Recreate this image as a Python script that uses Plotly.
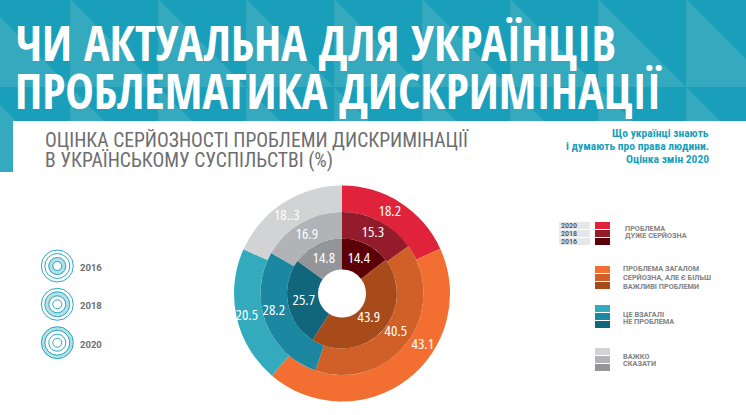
import plotly.graph_objects as go

W, H = 746, 415

categories = ["Проблема дуже серйозна", "Проблема загалом серйозна, але є більш важливі проблеми",
              "Це взагалі не проблема", "Важко сказати"]
values_2020 = [18.2, 43.1, 20.5, 18.3]
values_2018 = [15.3, 40.5, 28.2, 16.9]
values_2016 = [14.4, 43.9, 25.7, 14.8]
labels_2020 = ["18.2", "43.1", "20.5", "18..3"]
labels_2018 = ["15.3", "40.5", "28.2", "16.9"]
labels_2016 = ["14.4", "43.9", "25.7", "14.8"]
colors_2020 = ["#e0233a", "#f36f31", "#34abbd", "#d1d3d4"]
colors_2018 = ["#941b2c", "#d06027", "#1c87a0", "#b1b3b6"]
colors_2016 = ["#5c0007", "#a84b1a", "#11667c", "#939598"]
years = ["2016", "2018", "2020"]

CX, CY = 342, 293.5
TITLE = "Open Sans Condensed, sans-serif"
COND = "Roboto Condensed, sans-serif"
DIN = "Roboto, sans-serif"
VALUE = "Open Sans, sans-serif"


def px(x):
    return x / W


def py(y):
    return 1 - y / H


def ring(values, colors, cats, outer, inner):
    return go.Pie(
        labels=cats, values=values, sort=False, direction="clockwise", rotation=0,
        marker=dict(colors=colors, line=dict(width=0)), textinfo="none",
        hole=inner / outer, showlegend=False, hoverinfo="label+value",
        domain=dict(x=[px(CX - outer), px(CX + outer)], y=[py(CY + outer), py(CY - outer)]),
    )


fig = go.Figure()
fig.add_trace(ring(values_2020, colors_2020, categories, 108, 81.5))
fig.add_trace(ring(values_2018, colors_2018, categories, 81.5, 55))
fig.add_trace(ring(values_2016, colors_2016, categories, 55, 24))

shapes, ann = [], []


def rect(x0, y0, x1, y1, fill):
    shapes.append(dict(type="rect", xref="paper", yref="paper", x0=px(x0), x1=px(x1),
                       y0=py(y1), y1=py(y0), fillcolor=fill, line=dict(width=0), layer="below"))


def text(x, y, s, size, color, family=DIN, anchor="left", bold=False):
    ann.append(dict(x=px(x), y=py(y), xref="paper", yref="paper", text=f"<b>{s}</b>" if bold else s,
                    showarrow=False, xanchor=anchor, yanchor="middle", align=anchor,
                    font=dict(size=size, color=color, family=family), borderpad=0, borderwidth=0))


# header band with triangle pattern
rect(0, 0, W, 172, "#1a9fbb")
for row_top in (-1, 87):
    for x0 in range(-18, W, 88):
        p = f"M{px(x0)},{py(row_top)} L{px(x0)},{py(row_top + 88)} L{px(x0 + 88)},{py(row_top + 88)} Z"
        shapes.append(dict(type="path", xref="paper", yref="paper", path=p, fillcolor="#35a9bd",
                           line=dict(width=0), layer="below"))
rect(13, 121, W, 172, "#ffffff")
rect(0, 172, W, H, "#ffffff")

text(15, 43, "ЧИ АКТУАЛЬНА ДЛЯ УКРАЇНЦІВ", 48, "#ffffff", TITLE, bold=True)
text(15, 90, "ПРОБЛЕМАТИКА ДИСКРИМІНАЦІЇ", 48, "#ffffff", TITLE, bold=True)
text(45, 140, "ОЦІНКА СЕРЙОЗНОСТІ ПРОБЛЕМИ ДИСКРИМІНАЦІЇ", 19.6, "#6d6e71", COND)
text(45, 160, "В УКРАЇНСЬКОМУ СУСПІЛЬСТВІ (%)", 19.6, "#6d6e71", COND)
text(709, 133, "Що українці знають", 11.5, "#1a9fbb", COND, "right", True)
text(709, 146, "і думають про права людини.", 11.5, "#1a9fbb", COND, "right", True)
text(709, 159, "Оцінка змін 2020", 11.5, "#1a9fbb", COND, "right", True)

# value labels
label_spots = [
    (labels_2020, [(390, 209.5), (422.7, 342.7), (247.3, 314), (287, 214.5)]),
    (labels_2018, [(373.3, 231), (396.3, 330), (274, 308.5), (307.3, 233)]),
    (labels_2016, [(359.3, 256.7), (369, 316), (304, 299.3), (324, 256.7)]),
]
for labs, spots in label_spots:
    for s, (x, y) in zip(labs, spots):
        text(x, y, s, 15, "#ffffff", VALUE, "center")

# legend
group_tops = [222, 266, 305, 348]
for g, top in enumerate(group_tops):
    for i, cols in enumerate((colors_2020, colors_2018, colors_2016)):
        rect(595, top + i * 8, 610, top + i * 8 + 7, cols[g])
for i, yr in enumerate(reversed(years)):
    rect(559, 222 + i * 8, 590, 229 + i * 8, "#e6e7e8")
    text(561, 225.7 + i * 8, yr, 7, "#58595b", DIN, bold=True)

legend_lines = [
    (625, 228, "ПРОБЛЕМА"), (625, 235.5, "ДУЖЕ СЕРЙОЗНА"),
    (623, 268.5, "ПРОБЛЕМА ЗАГАЛОМ"), (623, 277.5, "СЕРЙОЗНА, АЛЕ Є БІЛЬШ"), (623, 286.5, "ВАЖЛИВІ ПРОБЛЕМИ"),
    (623, 314, "ЦЕ ВЗАГАЛІ"), (623, 321.5, "НЕ ПРОБЛЕМА"),
    (623, 356, "ВАЖКО"), (623, 363.5, "СКАЗАТИ"),
]
for x, y, s in legend_lines:
    text(x, y, s, 7.3, "#808285", DIN, bold=True)

# year icons: concentric rings, the shaded band marks the year's ring
bands = [(4, 9), (8, 12.5), (12, 16)]
radii = [4.5, 8.5, 12.5, 16]
for (yc, yr, band) in zip((266, 304.3, 342.7), years, bands):
    ix = 57.3
    def circ(r, fill, lw):
        shapes.append(dict(type="circle", xref="paper", yref="paper", x0=px(ix - r), x1=px(ix + r),
                           y0=py(yc + r), y1=py(yc - r), fillcolor=fill,
                           line=dict(width=lw, color="#2aa8c0"), layer="below"))
    circ(band[1], "#b5e0e8", 0)
    circ(band[0], "#ffffff", 0)
    for r in radii:
        circ(r, "rgba(0,0,0,0)", 1)
    text(80, yc + 1.3, yr, 9.5, "#6d6e71", DIN, bold=True)

fig.update_layout(width=W, height=H, margin=dict(l=0, r=0, t=0, b=0), autosize=False,
                  paper_bgcolor="#ffffff", plot_bgcolor="#ffffff", shapes=shapes, annotations=ann)

fig.write_html("out.html", config=dict(displayModeBar=False),
               post_script="document.body.style.margin='0';document.body.style.overflow='hidden';"
                           "document.querySelectorAll('.annotation-text').forEach(function(t){"
                           "if(/^[0-9]+[.]+[0-9]$/.test(t.textContent)){t.style.fontStretch='condensed';}});")
